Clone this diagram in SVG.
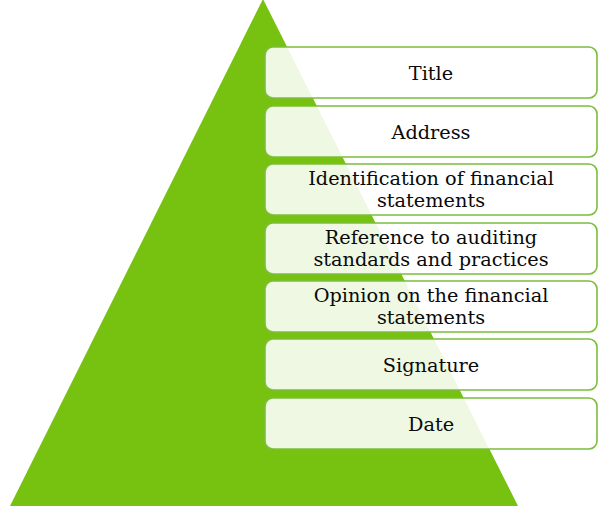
<svg xmlns="http://www.w3.org/2000/svg" width="600" height="513" viewBox="0 0 600 513">
<style>
.box{fill:#ffffff;fill-opacity:0.88;stroke:#7cbd3c;stroke-width:1.6}
.t{font-family:"DejaVu Serif","Liberation Serif",serif;font-size:19.3px;fill:#0a0a0a;text-anchor:middle}
</style>
<rect width="600" height="513" fill="#ffffff"/>
<polygon id="pyramid" points="263,-1 518,506 10,506" fill="#77c111"/>
<g id="connectors"/>
<g id="n1"><rect class="box" x="265" y="47" width="332" height="51" rx="8"/><text class="t" x="431" y="80">Title</text></g>
<g id="n2"><rect class="box" x="265" y="106" width="332" height="51" rx="8"/><text class="t" x="431" y="139">Address</text></g>
<g id="n3"><rect class="box" x="265" y="164" width="332" height="51" rx="8"/><text class="t" x="431" y="185">Identification of financial</text><text class="t" x="431" y="207">statements</text></g>
<g id="n4"><rect class="box" x="265" y="223" width="332" height="51" rx="8"/><text class="t" x="431" y="244">Reference to auditing</text><text class="t" x="431" y="266">standards and practices</text></g>
<g id="n5"><rect class="box" x="265" y="281" width="332" height="51" rx="8"/><text class="t" x="431" y="302">Opinion on the financial</text><text class="t" x="431" y="324">statements</text></g>
<g id="n6"><rect class="box" x="265" y="339" width="332" height="51" rx="8"/><text class="t" x="431" y="372">Signature</text></g>
<g id="n7"><rect class="box" x="265" y="398" width="332" height="51" rx="8"/><text class="t" x="431" y="431">Date</text></g>
</svg>
